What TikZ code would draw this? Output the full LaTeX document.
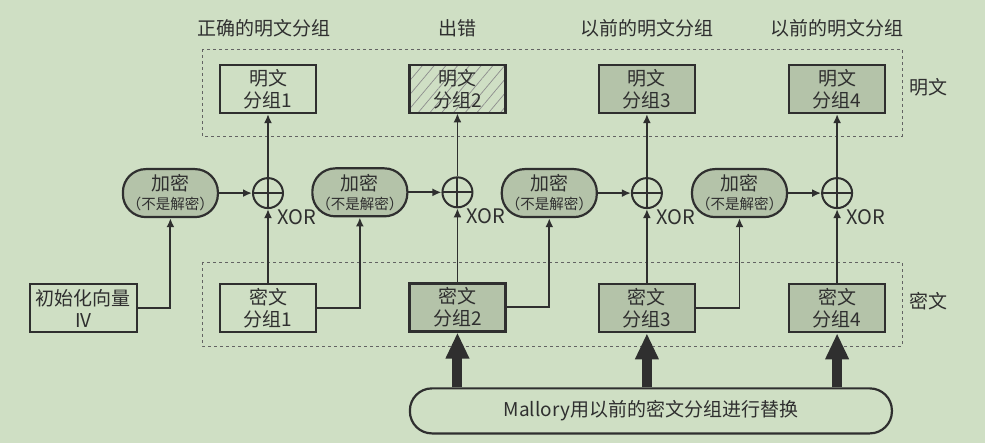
\documentclass[tikz,border=0pt]{standalone}
\usepackage{fontspec}
\setmainfont{Noto Sans CJK SC}
\usetikzlibrary{arrows.meta,positioning,patterns.meta}

\definecolor{bg}{HTML}{CFDFC4}
\definecolor{shade}{HTML}{B4C3A9}
\definecolor{ink}{HTML}{2F2F2F}

\begin{document}
\begin{tikzpicture}[
    x=1pt, y=-1pt,
    node distance=92pt,
    every node/.style={text=ink, font=\fontsize{19}{22}\selectfont},
    block/.style={rectangle, draw=ink, line width=2.2pt, minimum width=96pt, minimum height=48pt, inner sep=0pt, align=center},
    filled/.style={block, fill=shade},
    hatched/.style={block, pattern={Lines[angle=50,distance=9pt,line width=0.7pt]}, pattern color=ink!55},
    cipher/.style={draw=ink, line width=2.2pt, fill=shade, rounded corners=23pt, minimum width=95pt, minimum height=48pt, inner sep=0pt, align=center},
    banner/.style={draw=ink, line width=2.2pt, rounded corners=22pt, minimum width=482pt, minimum height=45pt, inner sep=0pt},
    xor/.style={circle, draw=ink, line width=2pt, minimum size=30pt, inner sep=0pt,
        path picture={\draw[ink, line width=2pt] (path picture bounding box.north) -- (path picture bounding box.south)
            (path picture bounding box.west) -- (path picture bounding box.east);}},
    xorlabel/.style={anchor=west, inner sep=0pt, font=\fontsize{20}{22}\selectfont},
    arrow/.style={-{Latex[length=9pt,width=8pt]}, line width=1.9pt, draw=ink},
    bigarrow/.style={-{Triangle[length=26pt,width=22pt]}, line width=10pt, draw=ink},
    region/.style={draw=ink!75, dashed, line width=0.8pt}
]
    \fill[bg] (0,0) rectangle (985,443);

    % dashed areas
    \draw[region] (202,49) rectangle (902,136);
    \draw[region] (202,262) rectangle (902,346);
    \node (ptlabel) at (928,87) {明文};
    \node (ctlabel) at (928,301) {密文};

    % plaintext blocks
    \node (p1) [block] at (268,89) {明文\\分组1};
    \node (p2) [hatched, right=of p1] {明文\\分组2};
    \node (p3) [filled, right=of p2] {明文\\分组3};
    \node (p4) [filled, right=of p3] {明文\\分组4};

    \node (t1) [yshift=36pt, xshift=-4pt] at (p1.north) {正确的明文分组};
    \node (t2) [yshift=36pt] at (p2.north) {出错};
    \node (t3) [yshift=36pt] at (p3.north) {以前的明文分组};
    \node (t4) [yshift=36pt] at (p4.north) {以前的明文分组};

    % XOR
    \node (x1) [xor, below=63pt of p1] {};
    \node (x2) [xor, below=63pt of p2] {};
    \node (x3) [xor, below=63pt of p3] {};
    \node (x4) [xor, below=63pt of p4] {};
    \node (xl1) [xorlabel] at ([xshift=9pt,yshift=-24pt]x1.center) {XOR};
    \node (xl2) [xorlabel] at ([xshift=9pt,yshift=-24pt]x2.center) {XOR};
    \node (xl3) [xorlabel] at ([xshift=9pt,yshift=-24pt]x3.center) {XOR};
    \node (xl4) [xorlabel] at ([xshift=9pt,yshift=-24pt]x4.center) {XOR};

    % encryption
    \node (e1) [cipher, left=33pt of x1] {加密\\[-3pt]{\fontsize{14.5}{16}\selectfont （不是解密）}};
    \node (e2) [cipher, left=33pt of x2] {加密\\[-3pt]{\fontsize{14.5}{16}\selectfont （不是解密）}};
    \node (e3) [cipher, left=33pt of x3] {加密\\[-3pt]{\fontsize{14.5}{16}\selectfont （不是解密）}};
    \node (e4) [cipher, left=33pt of x4] {加密\\[-3pt]{\fontsize{14.5}{16}\selectfont （不是解密）}};

    % ciphertext blocks
    \node (c1) [block, below=74pt of x1] {密文\\分组1};
    \node (c2) [filled, below=74pt of x2] {密文\\分组2};
    \node (c3) [filled, below=74pt of x3] {密文\\分组3};
    \node (c4) [filled, below=74pt of x4] {密文\\分组4};
    \node (iv) [block, minimum width=107pt, left=81pt of c1] {初始化向量\\IV};

    \node (mal) [banner, below=54pt of c3, xshift=4pt] {Mallory用以前的密文分组进行替换};

    \draw[arrow] (iv) -| (e1);
    \draw[arrow] (c1) -| (e2);
    \draw[arrow] (c2) -| (e3);
    \draw[arrow] (c3) -| (e4);

    \draw[arrow] (e1) -- (x1);
    \draw[arrow] (e2) -- (x2);
    \draw[arrow] (e3) -- (x3);
    \draw[arrow] (e4) -- (x4);

    \draw[arrow] (c1) -- (x1);
    \draw[arrow] (c2) -- (x2);
    \draw[arrow] (c3) -- (x3);
    \draw[arrow] (c4) -- (x4);

    \draw[arrow] (x1) -- (p1);
    \draw[arrow] (x2) -- (p2);
    \draw[arrow] (x3) -- (p3);
    \draw[arrow] (x4) -- (p4);

    \draw[bigarrow] (mal.north -| c2) -- (c2.south);
    \draw[bigarrow] (mal.north -| c3) -- (c3.south);
    \draw[bigarrow] (mal.north -| c4) -- (c4.south);
\end{tikzpicture}
\end{document}
